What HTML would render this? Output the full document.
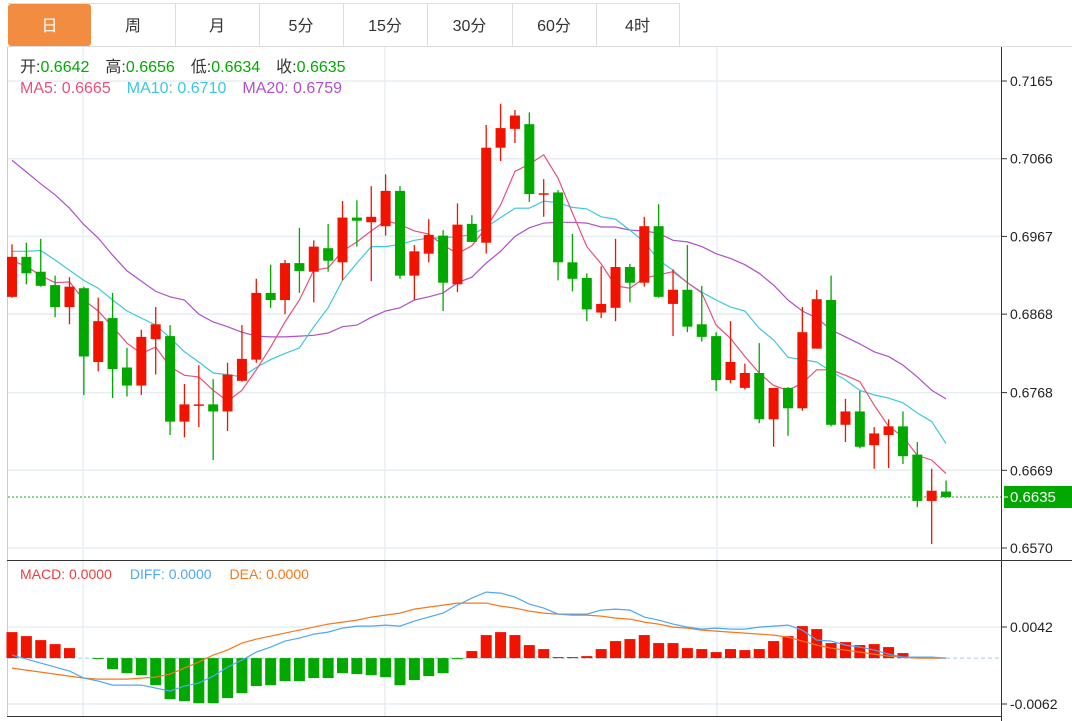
<!DOCTYPE html>
<html><head><meta charset="utf-8"><style>
html,body{margin:0;padding:0;background:#fff;}
svg{display:block;font-family:"Liberation Sans","Noto Sans CJK SC",sans-serif;}
</style></head><body>
<svg id="chart" width="1072" height="721" viewBox="0 0 1072 721" xmlns="http://www.w3.org/2000/svg">
<g id="tabs"></g>
<g id="grid"></g>
<g id="frame"></g>
<g id="ma"></g>
<g id="candles"></g>
<g id="macd"></g>
<g id="axis"></g>
<g font-size="16">
<text x="20" y="72" fill="#333">开:<tspan fill="#0a0">0.6642</tspan><tspan dx="16">高:</tspan><tspan fill="#0a0">0.6656</tspan><tspan dx="16">低:</tspan><tspan fill="#0a0">0.6634</tspan><tspan dx="16">收:</tspan><tspan fill="#0a0">0.6635</tspan></text>
<text x="20" y="93"><tspan fill="#e8507a">MA5: 0.6665</tspan><tspan dx="16" fill="#3cc8dc">MA10: 0.6710</tspan><tspan dx="16" fill="#b050c8">MA20: 0.6759</tspan></text>
<text x="20" y="579" font-size="14"><tspan fill="#f03c3c">MACD: 0.0000</tspan><tspan dx="18" fill="#4ea8f5">DIFF: 0.0000</tspan><tspan dx="18" fill="#f5781e">DEA: 0.0000</tspan></text>
</g>
</svg>
<script>
const opens=[0.6890,0.6941,0.6922,0.6905,0.6877,0.6901,0.6807,0.6863,0.6800,0.6777,0.6836,0.6840,0.6731,0.6752,0.6753,0.6744,0.6783,0.6810,0.6895,0.6886,0.6933,0.6922,0.6952,0.6934,0.6991,0.6985,0.6980,0.7025,0.6917,0.6945,0.6968,0.6906,0.6983,0.6959,0.7080,0.7104,0.7110,0.7021,0.7023,0.6934,0.6914,0.6870,0.6876,0.6928,0.6908,0.6980,0.6881,0.6899,0.6855,0.6840,0.6784,0.6774,0.6793,0.6734,0.6774,0.6748,0.6824,0.6886,0.6727,0.6744,0.6701,0.6714,0.6725,0.6689,0.6630,0.6642];
const highs=[0.6957,0.6959,0.6964,0.6917,0.6915,0.6903,0.6889,0.6895,0.6825,0.6848,0.6877,0.6854,0.6779,0.6803,0.6785,0.6806,0.6854,0.6913,0.6931,0.6937,0.6978,0.6962,0.6983,0.7012,0.7013,0.7031,0.7046,0.7031,0.6956,0.6989,0.6975,0.7009,0.6994,0.7109,0.7136,0.7128,0.7125,0.7040,0.7026,0.6970,0.6920,0.6929,0.6964,0.6932,0.6992,0.7008,0.6925,0.6956,0.6904,0.6845,0.6859,0.6805,0.6831,0.6774,0.6775,0.6877,0.6899,0.6917,0.6760,0.6770,0.6724,0.6734,0.6744,0.6705,0.6671,0.6656];
const lows=[0.6889,0.6906,0.6903,0.6864,0.6855,0.6765,0.6795,0.6761,0.6763,0.6765,0.6791,0.6714,0.6711,0.6724,0.6682,0.6719,0.6782,0.6806,0.6876,0.6868,0.6895,0.6883,0.6922,0.6911,0.6954,0.6910,0.6968,0.6913,0.6886,0.6934,0.6872,0.6896,0.6960,0.6945,0.7063,0.7086,0.7011,0.6992,0.6911,0.6897,0.6859,0.6863,0.6859,0.6883,0.6903,0.6889,0.6840,0.6845,0.6833,0.6770,0.6780,0.6772,0.6729,0.6699,0.6713,0.6745,0.6824,0.6725,0.6705,0.6697,0.6671,0.6672,0.6677,0.6622,0.6575,0.6634];
const closes=[0.6941,0.6920,0.6904,0.6877,0.6903,0.6814,0.6859,0.6798,0.6777,0.6839,0.6855,0.6731,0.6753,0.6753,0.6744,0.6791,0.6811,0.6895,0.6886,0.6933,0.6923,0.6954,0.6936,0.6991,0.6987,0.6992,0.7025,0.6917,0.6948,0.6969,0.6908,0.6982,0.6960,0.7080,0.7105,0.7121,0.7021,0.7022,0.6934,0.6913,0.6874,0.6881,0.6928,0.6908,0.6980,0.6890,0.6899,0.6852,0.6839,0.6784,0.6807,0.6793,0.6734,0.6774,0.6748,0.6845,0.6887,0.6727,0.6744,0.6699,0.6716,0.6725,0.6687,0.6630,0.6643,0.6635];
const ma5=[0.6936,0.6929,0.6917,0.6908,0.6909,0.6886,0.6872,0.6852,0.6831,0.6818,0.6826,0.6801,0.6790,0.6788,0.6771,0.6757,0.6771,0.6797,0.6826,0.6858,0.6886,0.6924,0.6927,0.6948,0.6960,0.6974,0.6987,0.6982,0.6974,0.6970,0.6956,0.6945,0.6955,0.6978,0.7007,0.7050,0.7059,0.7071,0.7041,0.6997,0.6954,0.6932,0.6904,0.6901,0.6914,0.6918,0.6922,0.6908,0.6895,0.6854,0.6837,0.6814,0.6793,0.6777,0.6771,0.6780,0.6797,0.6797,0.6790,0.6782,0.6752,0.6725,0.6712,0.6688,0.6682,0.6665];
const ma10=[0.6948,0.6948,0.6949,0.6937,0.6924,0.6911,0.6901,0.6886,0.6872,0.6863,0.6854,0.6838,0.6820,0.6807,0.6793,0.6791,0.6788,0.6800,0.6810,0.6818,0.6825,0.6852,0.6876,0.6911,0.6933,0.6954,0.6954,0.6957,0.6962,0.6965,0.6965,0.6967,0.6969,0.6979,0.6991,0.7003,0.7003,0.7012,0.7010,0.7004,0.7002,0.6992,0.6989,0.6975,0.6960,0.6937,0.6924,0.6908,0.6896,0.6886,0.6877,0.6872,0.6850,0.6835,0.6813,0.6810,0.6807,0.6795,0.6784,0.6771,0.6765,0.6761,0.6755,0.6742,0.6731,0.6703];
const ma20=[0.7064,0.7049,0.7034,0.7020,0.7003,0.6982,0.6965,0.6943,0.6923,0.6910,0.6897,0.6890,0.6886,0.6868,0.6858,0.6852,0.6845,0.6840,0.6839,0.6839,0.6840,0.6841,0.6844,0.6852,0.6854,0.6864,0.6872,0.6876,0.6886,0.6890,0.6895,0.6908,0.6915,0.6933,0.6948,0.6967,0.6978,0.6984,0.6985,0.6985,0.6984,0.6979,0.6979,0.6975,0.6974,0.6971,0.6962,0.6960,0.6954,0.6945,0.6939,0.6931,0.6920,0.6905,0.6886,0.6872,0.6863,0.6848,0.6839,0.6830,0.6820,0.6814,0.6803,0.6788,0.6771,0.6760];
const macdVals=[0.00351,0.00297,0.00243,0.00189,0.00135,0,-0.00014,-0.00149,-0.00203,-0.00230,-0.00365,-0.00554,-0.00581,-0.00608,-0.00608,-0.00540,-0.00473,-0.00378,-0.00365,-0.00311,-0.00311,-0.00270,-0.00270,-0.00203,-0.00216,-0.00230,-0.00257,-0.00365,-0.00297,-0.00243,-0.00203,-0.00014,0.00095,0.00311,0.00351,0.00311,0.00176,0.00122,0.00014,0.00014,0.00027,0.00122,0.00230,0.00257,0.00311,0.00203,0.00203,0.00135,0.00122,0.00081,0.00122,0.00108,0.00122,0.00230,0.00297,0.00432,0.00392,0.00203,0.00216,0.00176,0.00189,0.00149,0.00068,0,0,0];
const diffVals=[0.00041,-0.00014,-0.00068,-0.00122,-0.00176,-0.00270,-0.00311,-0.00365,-0.00365,-0.00365,-0.00405,-0.00446,-0.00378,-0.00338,-0.00243,-0.00122,-0.00027,0.00081,0.00149,0.00230,0.00270,0.00324,0.00351,0.00405,0.00432,0.00432,0.00446,0.00432,0.00500,0.00554,0.00608,0.00716,0.00810,0.00891,0.00878,0.00824,0.00729,0.00675,0.00594,0.00594,0.00594,0.00648,0.00662,0.00648,0.00554,0.00513,0.00459,0.00419,0.00392,0.00405,0.00392,0.00392,0.00419,0.00432,0.00446,0.00378,0.00243,0.00230,0.00176,0.00149,0.00108,0.00054,0.00014,0.00014,0.00014,0];
const deaVals=[-0.00135,-0.00162,-0.00189,-0.00216,-0.00243,-0.00270,-0.00284,-0.00284,-0.00284,-0.00270,-0.00257,-0.00216,-0.00135,-0.00054,0.00041,0.00108,0.00203,0.00257,0.00297,0.00338,0.00378,0.00419,0.00459,0.00486,0.00513,0.00554,0.00581,0.00608,0.00662,0.00689,0.00716,0.00743,0.00743,0.00743,0.00702,0.00675,0.00635,0.00608,0.00594,0.00581,0.00581,0.00567,0.00540,0.00527,0.00486,0.00459,0.00419,0.00405,0.00378,0.00365,0.00351,0.00338,0.00324,0.00311,0.00284,0.00230,0.00176,0.00135,0.00108,0.00081,0.00054,0.00027,0.00014,0,0,0];
const priceTicks=[0.7165,0.7066,0.6967,0.6868,0.6768,0.6669,0.6570];
const macdTicks=[0.0042,-0.0062];
const tabLabels=["日","周","月","5分","15分","30分","60分","4时"];
const lastPrice=0.6635;

const NS="http://www.w3.org/2000/svg";
function mk(tag,attrs,parent){const e=document.createElementNS(NS,tag);for(const k in attrs)e.setAttribute(k,attrs[k]);parent.appendChild(e);return e;}
const X0=12,STEP=14.37;
function xAt(i){return X0+i*STEP;}
function yP(p){return 81+(0.7165-p)*7849;}
function yM(v){return 658.1-v*7404;}

const tabs=document.getElementById('tabs');
const tabW=[83,84,84,84,84,85,84,83];
let tx=8;
mk('line',{x1:8,y1:3.5,x2:680,y2:3.5,stroke:'#ddd'},tabs);
tabLabels.forEach((t,i)=>{
  const g=mk('g',{},tabs);
  
  
  if(i===0){mk('rect',{x:tx,y:4,width:tabW[i],height:42,rx:3,fill:'#f28c40'},g);}
  else{mk('line',{x1:tx+tabW[i]+0.5,y1:4,x2:tx+tabW[i]+0.5,y2:46,stroke:'#ddd'},g);}
  const te=mk('text',{x:tx+tabW[i]/2,y:31,'text-anchor':'middle','font-size':16,fill:i===0?'#fff':'#333'},g);
  te.textContent=t;
  tx+=tabW[i];
});
mk('line',{x1:8,y1:46.5,x2:1072,y2:46.5,stroke:'#ddd'},tabs);

const grid=document.getElementById('grid');
priceTicks.forEach(p=>{mk('line',{x1:8,y1:yP(p),x2:1001,y2:yP(p),stroke:'#e6edf3','stroke-width':1.5},grid);});
macdTicks.forEach(v=>{mk('line',{x1:8,y1:yM(v),x2:1001,y2:yM(v),stroke:'#e6edf3','stroke-width':1.5},grid);});
[83,385,717].forEach(x=>{mk('line',{x1:x,y1:47,x2:x,y2:716,stroke:'#e6edf3','stroke-width':1.5},grid);});

const fr=document.getElementById('frame');
mk('line',{x1:7.5,y1:47,x2:7.5,y2:716,stroke:'#ccc'},fr);
mk('line',{x1:1001.5,y1:47,x2:1001.5,y2:721,stroke:'#333'},fr);
mk('line',{x1:7,y1:560.5,x2:1072,y2:560.5,stroke:'#333'},fr);
mk('line',{x1:7,y1:716.5,x2:1001,y2:716.5,stroke:'#333'},fr);
mk('line',{x1:8,y1:yM(0),x2:1001,y2:yM(0),stroke:'#9cd0e0','stroke-dasharray':'4,3'},fr);
mk('line',{x1:8,y1:yP(lastPrice),x2:1001,y2:yP(lastPrice),stroke:'#2a2','stroke-dasharray':'2,2'},fr);

const ma=document.getElementById('ma');
function poly(arr,fy,color,name,parent){
  const pts=arr.map((v,i)=>xAt(i).toFixed(1)+','+fy(v).toFixed(1)).join(' ');
  const pl=mk('polyline',{points:pts,fill:'none',stroke:color,'stroke-width':1.2},parent);
  
  
}
poly(ma20,yP,'#b050c8','ma20-line',ma);
poly(ma10,yP,'#3cc8dc','ma10-line',ma);
poly(ma5,yP,'#e8507a','ma5-line',ma);

const cg=document.getElementById('candles');
closes.forEach((c,i)=>{
  const o=opens[i],up=c>=o,col=up?'#f01400':'#00a800';
  const x=xAt(i);
  const g=mk('g',{},cg);
  
  
  mk('line',{x1:x,y1:yP(highs[i]),x2:x,y2:yP(lows[i]),stroke:col,'stroke-width':1.3},g);
  const t=yP(Math.max(o,c)),b=yP(Math.min(o,c));
  mk('rect',{x:x-5,y:t,width:10,height:Math.max(1.5,b-t),fill:col},g);
});

const mg=document.getElementById('macd');
macdVals.forEach((v,i)=>{
  if(v===0)return;
  const x=xAt(i),y0=yM(0),y1=yM(v);
  const r=mk('rect',{x:x-5.5,y:Math.min(y0,y1),width:11,height:Math.abs(y1-y0),fill:v>0?'#f01400':'#00a800'},mg);
  
  
});
poly(deaVals,yM,'#f5781e','dea-line',mg);
poly(diffVals,yM,'#4ea8f5','diff-line',mg);

const ax=document.getElementById('axis');
priceTicks.forEach(p=>{
  const y=yP(p);
  mk('line',{x1:1002,y1:y,x2:1007,y2:y,stroke:'#333'},ax);
  const t=mk('text',{x:1010,y:y+5,'font-size':14,fill:'#222'},ax);
  
  
  t.textContent=p.toFixed(4);
});
macdTicks.forEach(v=>{
  const y=yM(v);
  mk('line',{x1:1002,y1:y,x2:1007,y2:y,stroke:'#333'},ax);
  const t=mk('text',{x:1010,y:y+5,'font-size':14,fill:'#222'},ax);
  
  
  t.textContent=v.toFixed(4);
});
const ly=yP(lastPrice);
const lb=mk('rect',{x:1004,y:ly-11,width:68,height:22,fill:'#00a800'},ax);


mk('line',{x1:1004,y1:ly,x2:1008,y2:ly,stroke:'#fff'},ax);
const lt=mk('text',{x:1010,y:ly+5,'font-size':15,fill:'#fff'},ax);


lt.textContent=lastPrice.toFixed(4);
</script>
</body></html>
